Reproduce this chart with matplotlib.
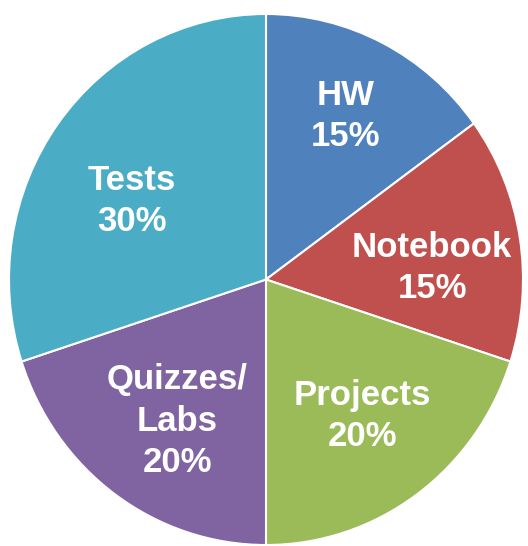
import matplotlib
matplotlib.use("Agg")
import matplotlib.pyplot as plt

categories = ["HW", "Notebook", "Projects", "Quizzes/\nLabs", "Tests"]
values = [15, 15, 20, 20, 30]
colors = ["#4F81BD", "#C0504D", "#9BBB59", "#8064A2", "#4BACC6"]

# label centre positions (layout, in axes data units)
label_pos = [(0.311, 0.616), (0.646, 0.043), (0.374, -0.514), (-0.346, -0.533), (-0.521, 0.296)]

fig = plt.figure(figsize=(5.28, 5.46), dpi=100)
ax = fig.add_axes([9 / 528, 1 / 546, 514 / 528, 531 / 546])
wedges, _ = ax.pie(values, colors=colors, startangle=90, counterclock=False,
                   radius=1, frame=False,
                   wedgeprops=dict(edgecolor="white", linewidth=1.5))
ax.set_aspect("auto")
ax.set_xlim(-1.0, 1.0)
ax.set_ylim(-1.0, 1.0)
ax.axis("off")

for cat, v, (x, y) in zip(categories, values, label_pos):
    ax.text(x, y, f"{cat}\n{v}%", ha="center", va="center", color="white",
            fontsize=25, fontweight="bold", family="Liberation Sans",
            linespacing=1.32)

fig.savefig("out.png", dpi=100)
